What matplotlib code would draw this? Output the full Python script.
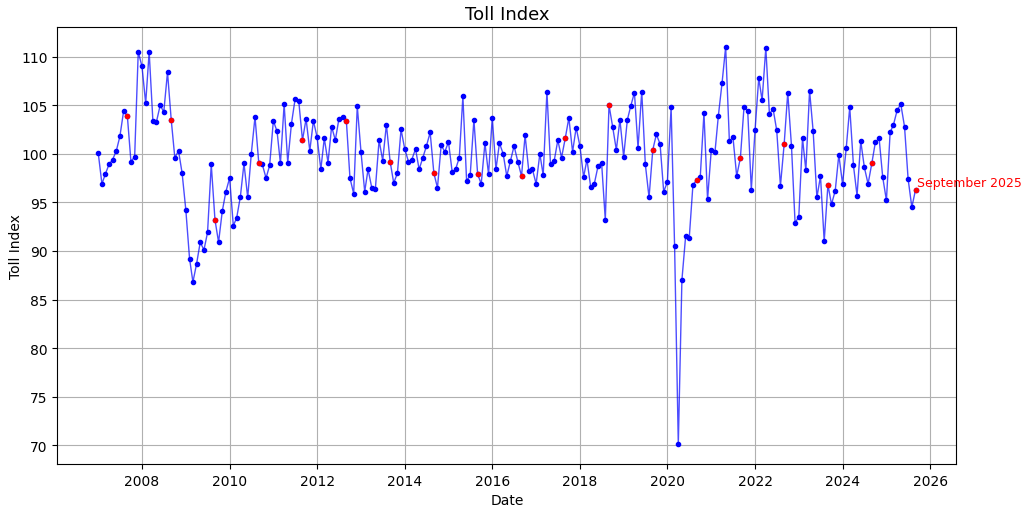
import pandas as pd
import matplotlib.pyplot as plt

# monthly toll index, Jan 2007 .. Sep 2025
toll_2007 = [100.1, 96.9, 97.9, 98.9, 99.4, 100.3, 101.8, 104.4, 103.9, 99.2, 99.7, 110.5]
toll_2008 = [109.0, 105.2, 110.5, 103.4, 103.3, 105.0, 104.3, 108.4, 103.5, 99.6, 100.3, 98.0]
toll_2009 = [94.2, 89.2, 86.8, 88.7, 90.9, 90.1, 91.9, 98.9, 93.2, 90.9, 94.1, 96.1]
toll_2010 = [97.5, 92.6, 93.4, 95.6, 99.0, 95.5, 100.0, 103.8, 99.1, 98.9, 97.5, 98.8]
toll_2011 = [103.4, 102.3, 99.0, 105.1, 99.1, 103.1, 105.6, 105.4, 101.4, 103.6, 100.3, 103.4]
toll_2012 = [101.7, 98.4, 101.6, 99.1, 102.8, 101.4, 103.6, 103.8, 103.4, 97.5, 95.9, 104.9]
toll_2013 = [100.2, 96.1, 98.4, 96.5, 96.4, 101.4, 99.3, 103.0, 99.2, 97.0, 98.0, 102.5]
toll_2014 = [100.5, 99.2, 99.4, 100.5, 98.4, 99.6, 100.8, 102.2, 98.0, 96.5, 100.9, 100.2]
toll_2015 = [101.2, 98.1, 98.4, 99.6, 105.9, 97.2, 97.8, 103.5, 97.9, 96.9, 101.1, 97.9]
toll_2016 = [103.7, 98.4, 101.1, 100.0, 97.7, 99.3, 100.8, 99.2, 97.7, 101.9, 98.2, 98.4]
toll_2017 = [96.9, 100.0, 97.8, 106.4, 98.9, 99.3, 101.4, 99.6, 101.6, 103.7, 100.2, 102.7]
toll_2018 = [100.8, 97.6, 99.4, 96.6, 96.9, 98.7, 99.1, 93.2, 105.0, 102.8, 100.4, 103.5]
toll_2019 = [99.7, 103.5, 104.9, 106.3, 100.6, 106.4, 98.9, 95.5, 100.4, 102.0, 101.0, 96.1]
toll_2020 = [97.1, 104.8, 90.5, 70.1, 87.0, 91.5, 91.3, 96.8, 97.3, 97.6, 104.2, 95.3]
toll_2021 = [100.4, 100.2, 103.9, 107.3, 111.0, 101.3, 101.7, 97.7, 99.6, 104.8, 104.4, 96.3]
toll_2022 = [102.4, 107.8, 105.5, 110.9, 104.1, 104.6, 102.4, 96.7, 101.0, 106.3, 100.8, 92.9]
toll_2023 = [93.5, 101.6, 98.3, 106.5, 102.3, 95.5, 97.7, 91.0, 96.8, 94.8, 96.2, 99.9]
toll_2024 = [96.9, 100.6, 104.8, 98.8, 95.7, 101.3, 98.6, 96.9, 99.0, 101.2, 101.6, 97.6]
toll_2025 = [95.2, 102.2, 103.0, 104.5, 105.1, 102.8, 97.4, 94.5, 96.3]

values = (toll_2007 + toll_2008 + toll_2009 + toll_2010 + toll_2011 + toll_2012
          + toll_2013 + toll_2014 + toll_2015 + toll_2016 + toll_2017 + toll_2018
          + toll_2019 + toll_2020 + toll_2021 + toll_2022 + toll_2023 + toll_2024
          + toll_2025)
dates = pd.date_range('2007-01-01', periods=len(values), freq='MS')

df = pd.DataFrame({'date': dates, 'toll': values})
sept = df[df['date'].dt.month == 9]

fig, ax = plt.subplots(figsize=(10.24, 5.1), dpi=100)
ax.plot(df['date'], df['toll'], color='blue', linewidth=1, alpha=0.7)
ax.plot(df['date'], df['toll'], 'o', color='blue', markersize=3)
ax.plot(sept['date'], sept['toll'], 'o', color='red', markersize=3)

last = df.iloc[-1]
ax.annotate('September 2025', xy=(last['date'], last['toll']),
            xytext=(1, 3), textcoords='offset points', color='red', fontsize=9)

ax.set_title('Toll Index', fontsize=13)
ax.set_xlabel('Date')
ax.set_ylabel('Toll Index', labelpad=-1)
ax.grid(True)

fig.subplots_adjust(left=0.056, right=0.934, top=0.945, bottom=0.088)
plt.savefig('out.png')
